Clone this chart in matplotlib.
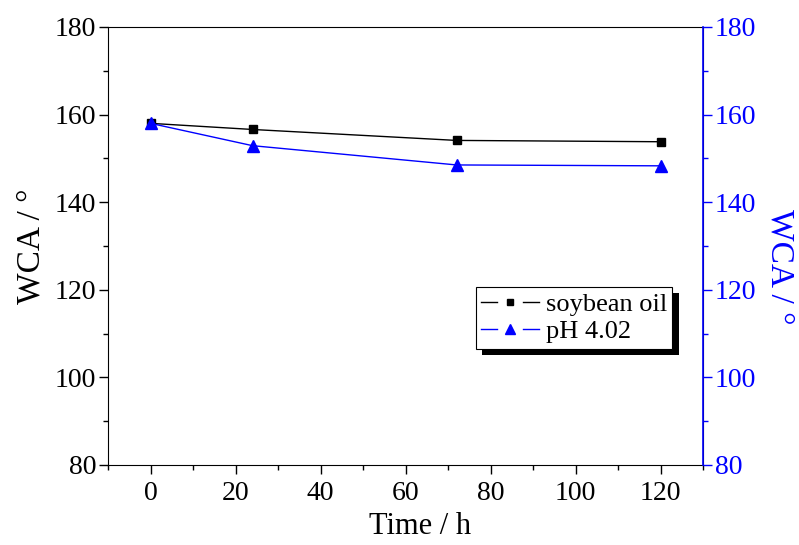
import matplotlib
matplotlib.use("Agg")
import matplotlib.pyplot as plt
from matplotlib import patheffects
from matplotlib.ticker import MultipleLocator
from matplotlib.legend_handler import HandlerBase
from matplotlib.lines import Line2D

time_h = [0, 24, 72, 120]
soybean = [158.0, 156.6, 154.1, 153.8]
ph402 = [158.0, 152.9, 148.5, 148.3]

plt.rcParams['font.family'] = ['Liberation Serif', 'DejaVu Serif']


class GapLineHandler(HandlerBase):
    def create_artists(self, legend, orig, xdescent, ydescent, width, height, fontsize, trans):
        y = height / 2 - ydescent
        c = orig.get_color()
        gap = 0.22 * width
        x0, x1 = -xdescent, -xdescent + width
        xm = (x0 + x1) / 2
        a = Line2D([x0, xm - gap], [y, y], color=c, lw=1, transform=trans)
        b = Line2D([xm + gap, x1], [y, y], color=c, lw=1, transform=trans)
        m = Line2D([xm], [y], color=c, marker=orig.get_marker(), ms=orig.get_markersize() * 0.75,
                   ls='none', transform=trans)
        return [a, b, m]


fig = plt.figure(figsize=(7.99, 5.45), dpi=100)
ax = fig.add_axes([0.1352, 0.1468, 0.880 - 0.1352, 0.9505 - 0.1468])
ax2 = ax.twinx()

l1, = ax.plot(time_h, soybean, color='black', lw=1, marker='s', ms=6.3, label='soybean oil')
l2, = ax2.plot(time_h, ph402, color='blue', lw=1, marker='^', ms=9, label='pH 4.02')

ax.set_xlim(-10, 130)
ax.set_ylim(80, 180)
ax2.set_ylim(80, 180)
ax.xaxis.set_major_locator(MultipleLocator(20))
ax.xaxis.set_minor_locator(MultipleLocator(10))
ax.yaxis.set_major_locator(MultipleLocator(20))
ax.yaxis.set_minor_locator(MultipleLocator(10))
ax2.yaxis.set_major_locator(MultipleLocator(20))
ax2.yaxis.set_minor_locator(MultipleLocator(10))

for a in (ax, ax2):
    a.tick_params(which='major', direction='out', length=6.5, width=1, labelsize=20, pad=2)
    a.tick_params(which='minor', direction='out', length=3.5, width=1)
ax.tick_params(axis='x', pad=5)
ax.tick_params(top=False, right=False, which='both')
ax2.tick_params(axis='y', which='both', colors='blue', labelcolor='blue')
ax2.spines['right'].set_color('blue')
ax2.spines['right'].set_linewidth(1.2)
ax2.spines['left'].set_visible(False)
ax2.spines['top'].set_visible(False)
ax2.spines['bottom'].set_visible(False)

ax.set_xlabel('Time / h', fontsize=22)
ax.xaxis.set_label_coords(0.524, -0.108)
ax.set_ylabel('WCA / °', fontsize=24, labelpad=6)
ax2.set_ylabel('WCA / °', fontsize=24, color='blue', rotation=270, va='center')
ax2.yaxis.set_label_coords(1.128, 0.452)

leg = ax2.legend(handles=[l1, l2], loc='upper left', bbox_to_anchor=(0.618, 0.406),
                 fontsize=19, frameon=True, fancybox=False, edgecolor='black',
                 framealpha=1, handlelength=2.2, handletextpad=0.25,
                 borderpad=0.2, labelspacing=0.15, borderaxespad=0,
                 handler_map={Line2D: GapLineHandler()})
leg.get_frame().set_linewidth(0.8)
leg.get_frame().set_path_effects([
    patheffects.SimplePatchShadow(offset=(4.5, -4.5), shadow_rgbFace='black', alpha=1),
    patheffects.Normal()])

fig.savefig('out.png', dpi=100)
